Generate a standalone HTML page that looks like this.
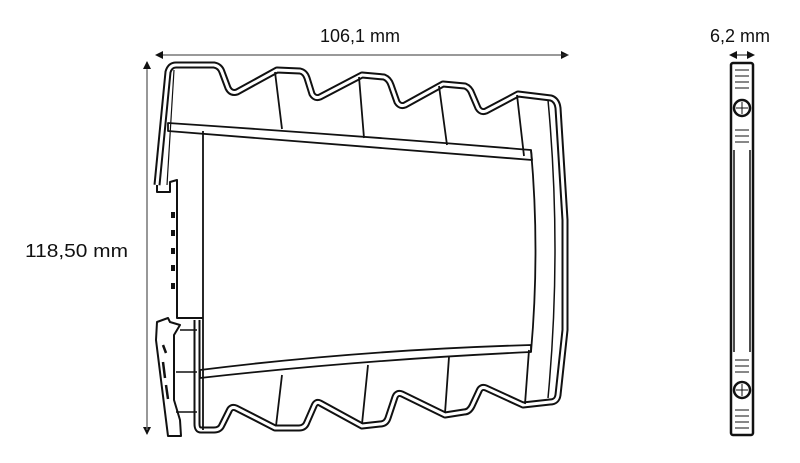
<!DOCTYPE html>
<html><head><meta charset="utf-8"><style>
html,body{margin:0;padding:0;background:#fff;width:800px;height:463px;overflow:hidden}
svg{display:block}
text{font-family:"Liberation Sans",sans-serif;font-size:18px;fill:#111}
</style></head><body>
<svg width="800" height="463" viewBox="0 0 800 463" xmlns="http://www.w3.org/2000/svg">
<defs>
<marker id="a" markerWidth="8" markerHeight="8" refX="7" refY="4" orient="auto" markerUnits="userSpaceOnUse"><path d="M0,0 L8,4 L0,8 z" fill="#111"/></marker>
<path id="out" d="M157,185 L168,72 Q170,65 176,65 L214,65 Q220,66 222,72 L228,88 Q231,94 237,92 L277,70 L300,71 Q305,72 307,78 L312,94 Q315,99 320,97 L362,75 L384,77 Q389,79 391,85 L397,102 Q400,107 405,105 L443,84 L465,86 Q470,88 472,94 L478,108 Q481,113 486,111 L518,94 L551,98 Q557,100 558,108 L565,220 L565,330 L558,395 Q557,402 550,402 L523,405 L486,388 Q481,386 479,391 L472,406 Q469,412 464,412 L445,415 L402,394 Q397,392 395,397 L388,418 Q386,424 380,424 L362,426 L320,403 Q316,401 314,406 L307,422 Q305,428 299,428 L275,428 L236,408 Q231,406 229,411 L222,425 Q220,430 214,430 L201,430 Q197,430 197,424 L197,320"/>
</defs>
<text x="360" y="42" text-anchor="middle" font-size="18">106,1 mm</text>
<line x1="160" y1="55" x2="568" y2="55" stroke="#333" stroke-width="1" marker-end="url(#a)"/>
<line x1="568" y1="55" x2="156" y2="55" stroke="#333" stroke-width="1" marker-end="url(#a)"/>
<text x="25" y="257" textLength="103" lengthAdjust="spacingAndGlyphs">118,50 mm</text>
<line x1="147" y1="70" x2="147" y2="434" stroke="#777" stroke-width="1.3" marker-end="url(#a)"/>
<line x1="147" y1="430" x2="147" y2="62" stroke="#777" stroke-width="1.3" marker-end="url(#a)"/>
<text x="740" y="42" text-anchor="middle">6,2 mm</text>
<line x1="732" y1="55" x2="754" y2="55" stroke="#111" stroke-width="1" marker-end="url(#a)"/>
<line x1="754" y1="55" x2="730" y2="55" stroke="#111" stroke-width="1" marker-end="url(#a)"/>

<g fill="none" stroke-linejoin="round">
<use href="#out" stroke="#111" stroke-width="7"/>
<use href="#out" stroke="#fff" stroke-width="3"/>
</g>
<g fill="none" stroke="#111" stroke-width="2" stroke-linejoin="round">
<path d="M174,70 L167,185" stroke-width="1.2"/>
<path d="M168,123 Q350,135 531,150 L532,160 Q350,145 168,131 Z" stroke-width="1.8"/>
<path d="M203,131 L203,430" stroke-width="1.8"/>
<path d="M531,150 Q540,250 531,352" stroke-width="1.8"/>
<path d="M548,100 Q562,250 548,398" stroke-width="1.5"/>
<path d="M275,72 L282,129 M359,77 L364,138 M439,86 L447,145 M517,95 L524,156" stroke-width="1.8"/>
<path d="M200,370 Q360,350 531,345 L531,352 Q360,360 200,378 Z" stroke-width="1.8"/>
<path d="M282,375 L276,426 M368,365 L362,424 M449,357 L445,413 M529,350 L525,404" stroke-width="1.8"/>
<path d="M157,185 L157,192 L170,192 L170,182 L177,180 L177,318 L203,318" stroke-width="2"/>
<g fill="#111" stroke="none">
<rect x="171" y="212" width="4" height="6"/><rect x="171" y="230" width="4" height="6"/><rect x="171" y="248" width="4" height="6"/><rect x="171" y="265" width="4" height="6"/><rect x="171" y="283" width="4" height="6"/>
</g>
<path d="M168,318 L157,322 L156,340 L168,436 L181,436 L180,420 L174,400 L174,335 L180,325 L170,322 Z" stroke-width="2"/>
<path d="M176,372 L197,372 M176,412 L197,412 M180,330 L197,330" stroke-width="1.5"/>
<path d="M163,345 l3,8 M163,362 l2,16 M166,385 l2,14" stroke-width="2.5"/>
</g>

<g fill="none" stroke="#111">
<rect x="731" y="63" width="22" height="372" rx="2" stroke-width="2.5"/>
<line x1="734" y1="150" x2="734" y2="352" stroke-width="1.5"/>
<line x1="750" y1="150" x2="750" y2="352" stroke-width="1.5"/>
<path d="M735,70 L749,70 M735,76 L749,76 M735,82 L749,82 M735,88 L749,88 M735,130 L749,130 M735,136 L749,136 M735,142 L749,142 M735,372 L749,372 M735,366 L749,366 M735,360 L749,360 M735,410 L749,410 M735,416 L749,416 M735,422 L749,422 M735,428 L749,428" stroke-width="1"/>
<circle cx="742" cy="108" r="8" stroke-width="2.5"/>
<circle cx="742" cy="390" r="8" stroke-width="2.5"/>
<path d="M736,108 L748,108 M742,102 L742,114 M736,390 L748,390 M742,384 L742,396" stroke-width="1"/>
</g>
</svg>
</body></html>
